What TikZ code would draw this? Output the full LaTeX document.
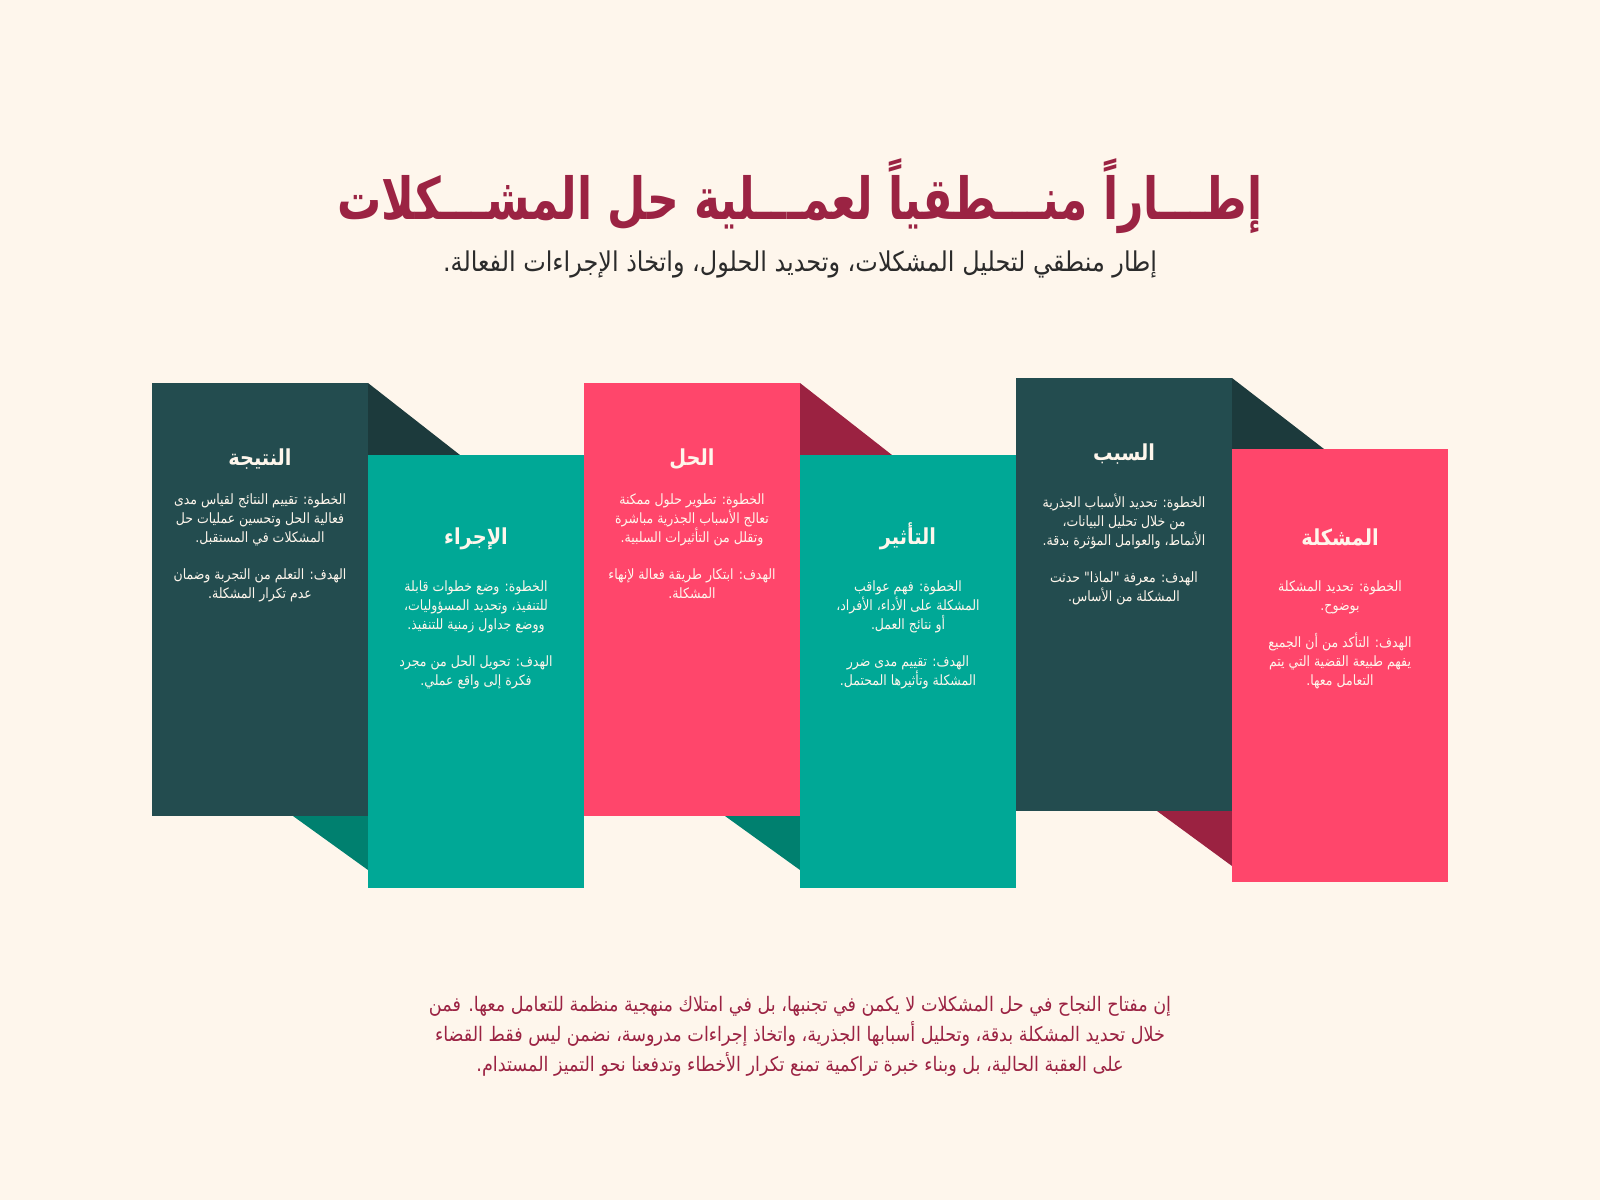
\documentclass[tikz,border=0pt]{standalone}
\usepackage{fontspec}
\usepackage{tikz}
\newfontfamily\arabicfont[Script=Arabic]{DejaVu Sans}
\newfontfamily\arabicnarrow[Script=Arabic, FakeStretch=0.88]{DejaVu Sans}
\newfontfamily\titlefont[Script=Arabic, FakeStretch=0.76]{DejaVu Sans}
\TeXXeTstate=1
\definecolor{bgcream}{HTML}{FEF6EC}
\definecolor{darkteal}{HTML}{234C4F}
\definecolor{darktealfold}{HTML}{1C3A3C}
\definecolor{panelteal}{HTML}{00A896}
\definecolor{tealfold}{HTML}{00806F}
\definecolor{panelpink}{HTML}{FF466B}
\definecolor{pinkfold}{HTML}{9B2241}
\definecolor{wine}{HTML}{9B2343}
\definecolor{ink}{HTML}{2B2B2B}
\newcommand{\arl}[1]{\beginR #1\endR}

\begin{document}
\begin{tikzpicture}[x=0.5pt, y=-0.5pt,
  panelhead/.style={text=bgcream, font=\arabicnarrow\bfseries\fontsize{11}{13}\selectfont},
  panelbody/.style={text=bgcream, align=center, anchor=north, font=\arabicnarrow\fontsize{7.1}{9.35}\selectfont}]

  \newcommand\PW{216}
  \newcommand\PH{433}

  \fill[bgcream] (0,0) rectangle (1600,1200);

  \node[text=wine, font=\titlefont\bfseries\fontsize{29}{34}\selectfont] (title) at (800,196)
    {\arl{إطـــاراً منـــطقياً لعمـــلية حل المشـــكلات}};
  \node[text=ink, font=\arabicnarrow\fontsize{13.6}{16}\selectfont] (subtitle) at (800,264)
    {\arl{إطار منطقي لتحليل المشكلات، وتحديد الحلول، واتخاذ الإجراءات الفعالة.}};

  %% folds behind the strip
  \fill[darktealfold] (152+1*\PW, 383) -- (244+1*\PW, 455) -- (152+1*\PW, 455) -- cycle; % النتيجة top
  \fill[tealfold] (77+1*\PW, 816) -- (152+1*\PW, 816) -- (152+1*\PW, 870) -- cycle; % الإجراء bottom
  \fill[pinkfold] (152+3*\PW, 383) -- (244+3*\PW, 455) -- (152+3*\PW, 455) -- cycle; % الحل top
  \fill[tealfold] (77+3*\PW, 816) -- (152+3*\PW, 816) -- (152+3*\PW, 870) -- cycle; % التأثير bottom
  \fill[darktealfold] (152+5*\PW, 378) -- (244+5*\PW, 449) -- (152+5*\PW, 449) -- cycle; % السبب top
  \fill[pinkfold] (77+5*\PW, 811) -- (152+5*\PW, 811) -- (152+5*\PW, 866) -- cycle; % المشكلة bottom

  %% panels
  \fill[darkteal] (152+0*\PW, 383) rectangle +(\PW, \PH);
  \fill[panelteal] (152+1*\PW, 455) rectangle +(\PW, \PH);
  \fill[panelpink] (152+2*\PW, 383) rectangle +(\PW, \PH);
  \fill[panelteal] (152+3*\PW, 455) rectangle +(\PW, \PH);
  \fill[darkteal] (152+4*\PW, 378) rectangle +(\PW, \PH);
  \fill[panelpink] (152+5*\PW, 449) rectangle +(\PW, \PH);

  \node[panelhead] (head1) at (260+0*\PW, 459) {\arl{النتيجة}};
  \node[panelbody] (body1) at (260+0*\PW, 487) {\arl{الخطوة: تقييم النتائج لقياس مدى}\\\arl{فعالية الحل وتحسين عمليات حل}\\\arl{المشكلات في المستقبل.}\\[9.35pt]\arl{الهدف: التعلم من التجربة وضمان}\\\arl{عدم تكرار المشكلة.}};

  \node[panelhead] (head2) at (260+1*\PW, 539) {\arl{الإجراء}};
  \node[panelbody] (body2) at (260+1*\PW, 574) {\arl{الخطوة: وضع خطوات قابلة}\\\arl{للتنفيذ، وتحديد المسؤوليات،}\\\arl{ووضع جداول زمنية للتنفيذ.}\\[9.35pt]\arl{الهدف: تحويل الحل من مجرد}\\\arl{فكرة إلى واقع عملي.}};

  \node[panelhead] (head3) at (260+2*\PW, 459) {\arl{الحل}};
  \node[panelbody] (body3) at (260+2*\PW, 487) {\arl{الخطوة: تطوير حلول ممكنة}\\\arl{تعالج الأسباب الجذرية مباشرة}\\\arl{وتقلل من التأثيرات السلبية.}\\[9.35pt]\arl{الهدف: ابتكار طريقة فعالة لإنهاء}\\\arl{المشكلة.}};

  \node[panelhead] (head4) at (260+3*\PW, 536) {\arl{التأثير}};
  \node[panelbody] (body4) at (260+3*\PW, 574) {\arl{الخطوة: فهم عواقب}\\\arl{المشكلة على الأداء، الأفراد،}\\\arl{أو نتائج العمل.}\\[9.35pt]\arl{الهدف: تقييم مدى ضرر}\\\arl{المشكلة وتأثيرها المحتمل.}};

  \node[panelhead] (head5) at (260+4*\PW, 454) {\arl{السبب}};
  \node[panelbody] (body5) at (260+4*\PW, 487) {\arl{الخطوة: تحديد الأسباب الجذرية}\\\arl{من خلال تحليل البيانات،}\\\arl{الأنماط، والعوامل المؤثرة بدقة.}\\[9.35pt]\arl{الهدف: معرفة "لماذا" حدثت}\\\arl{المشكلة من الأساس.}};

  \node[panelhead] (head6) at (260+5*\PW, 537) {\arl{المشكلة}};
  \node[panelbody] (body6) at (260+5*\PW, 574) {\arl{الخطوة: تحديد المشكلة}\\\arl{بوضوح.}\\[9.35pt]\arl{الهدف: التأكد من أن الجميع}\\\arl{يفهم طبيعة القضية التي يتم}\\\arl{التعامل معها.}};

  \node[text=wine, align=center, font=\arabicnarrow\fontsize{10}{15}\selectfont] (summary) at (800,1036)
    {\arl{إن مفتاح النجاح في حل المشكلات لا يكمن في تجنبها، بل في امتلاك منهجية منظمة للتعامل معها. فمن}\\
     \arl{خلال تحديد المشكلة بدقة، وتحليل أسبابها الجذرية، واتخاذ إجراءات مدروسة، نضمن ليس فقط القضاء}\\
     \arl{على العقبة الحالية، بل وبناء خبرة تراكمية تمنع تكرار الأخطاء وتدفعنا نحو التميز المستدام.}};

\end{tikzpicture}
\end{document}
